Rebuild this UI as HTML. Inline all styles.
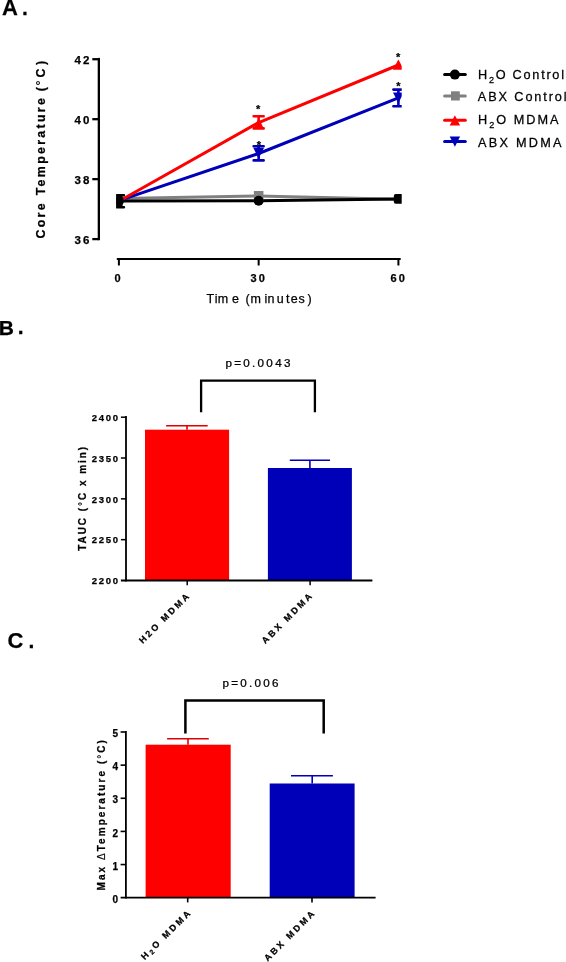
<!DOCTYPE html>
<html><head><meta charset="utf-8">
<style>
html,body{margin:0;padding:0;background:#fff;width:566px;height:962px;overflow:hidden}
svg{display:block;will-change:transform;filter:blur(0.35px)}
text{font-family:"Liberation Sans",sans-serif;fill:#000;stroke:#000;stroke-width:0.25px}
.b{font-weight:bold}
</style></head><body>
<svg width="566" height="962" viewBox="0 0 566 962">
<defs>
<clipPath id="clipA"><rect x="116.2" y="40" width="285.5" height="200"/></clipPath>
</defs>
<text class="b" x="2.0" y="15.0" font-size="22">A</text>
<text class="b" x="22.0" y="15.0" font-size="21">.</text>
<g stroke="#000" stroke-width="2.3" fill="none"><line x1="98.85" y1="57.9" x2="98.85" y2="240.2"/><line x1="92.3" y1="59.22" x2="98.85" y2="59.22"/><line x1="92.3" y1="119.18" x2="98.85" y2="119.18"/><line x1="92.3" y1="179.14" x2="98.85" y2="179.14"/><line x1="92.3" y1="239.10" x2="98.85" y2="239.10"/></g>
<text class="b" x="91.2" y="64.02" font-size="11.5" letter-spacing="1.9" text-anchor="end">42</text>
<text class="b" x="91.2" y="123.98" font-size="11.5" letter-spacing="1.9" text-anchor="end">40</text>
<text class="b" x="91.2" y="183.94" font-size="11.5" letter-spacing="1.9" text-anchor="end">38</text>
<text class="b" x="91.2" y="243.9" font-size="11.5" letter-spacing="1.9" text-anchor="end">36</text>
<text class="b" font-size="12.4" letter-spacing="2.3" transform="translate(45.3,238.5) rotate(-90)">Core Temperature <tspan dx="-1.1">(</tspan><tspan dx="-0.6" font-weight="normal">°</tspan><tspan dx="0.6">C</tspan><tspan dx="1.3">)</tspan></text>
<g stroke="#000" stroke-width="2" fill="none"><line x1="116.8" y1="259.05" x2="400.7" y2="259.05"/><line x1="118.90" y1="259" x2="118.90" y2="265.5"/><line x1="258.65" y1="259" x2="258.65" y2="265.5"/><line x1="398.40" y1="259" x2="398.40" y2="265.5"/></g>
<text class="b" x="114.6" y="281.5" font-size="11">0</text>
<text class="b" x="250.6" y="281.5" font-size="11" letter-spacing="2.1">30</text>
<text class="b" x="390.6" y="281.5" font-size="11" letter-spacing="2.1">60</text>
<text font-size="12.5" x="206.6 214.7 217.7 232.1 240 245.4 250.5 264.5 267.6 276.8 285.9 290.7 298.4 307.6" y="303.4">Time (minutes)</text>
<g clip-path="url(#clipA)">
<g fill="none" stroke-width="3" stroke-linejoin="round">
<polyline stroke="#808080" points="118.90,198.5 258.65,196.0 398.40,199.3"/>
<polyline stroke="#000" points="118.90,201.0 258.65,200.7 398.40,199.0"/>
<polyline stroke="#0000B8" points="118.90,200.6 258.65,153.5 398.40,97.8"/>
<polyline stroke="#FF0000" points="118.90,201.3 258.65,122.6 398.40,65.0"/>
</g>
<path stroke="#000" stroke-width="2.6" stroke-linecap="round" fill="none" d="M118.90,195.3V207.3M113.90,195.3H123.90M113.90,207.3H123.90"/>
<circle cx="118.90" cy="201" r="5" fill="#000"/>
<rect x="112" y="195" width="10.6" height="12.6" fill="#000"/>
<rect x="253.85" y="191" width="9.6" height="9.6" fill="#808080"/>
<circle cx="258.65" cy="200.7" r="5" fill="#000"/>
<path stroke="#FF0000" stroke-width="2.6" stroke-linecap="round" fill="none" d="M258.65,116.2V128.4M253.65,116.2H263.65M253.65,128.4H263.65"/>
<polygon points="258.65,118 253.25,128.9 264.05,128.9" fill="#FF0000"/>
<path stroke="#0000B8" stroke-width="2.6" stroke-linecap="round" fill="none" d="M258.65,146.2V160.4M253.65,146.2H263.65M253.65,160.4H263.65"/>
<polygon points="253.25,147.8 264.05,147.8 258.65,158.5" fill="#0000B8"/>
<rect x="393.80" y="194" width="9.6" height="9.8" rx="2" fill="#000"/>
<polygon points="398.40,59.6 392.80,69.8 404.00,69.8" fill="#FF0000"/>
<path stroke="#0000B8" stroke-width="2.6" stroke-linecap="round" fill="none" d="M398.40,89.6V106.3M393.40,89.6H403.40M393.40,106.3H403.40"/>
<polygon points="393.00,92.6 403.80,92.6 398.40,103.1" fill="#0000B8"/>
</g>
<text class="b" x="258.2" y="113.0" font-size="11" text-anchor="middle">*</text>
<text class="b" x="259.0" y="148.7" font-size="11" text-anchor="middle">*</text>
<text class="b" x="398.2" y="61.4" font-size="11" text-anchor="middle">*</text>
<text class="b" x="398.5" y="89.9" font-size="11" text-anchor="middle">*</text>
<g stroke-width="3" fill="none" stroke-linecap="round"><line x1="444.6" y1="74.4" x2="465.3" y2="74.4" stroke="#000"/><line x1="444.6" y1="95.9" x2="465.3" y2="95.9" stroke="#808080"/><line x1="444.6" y1="120.2" x2="465.3" y2="120.2" stroke="#FF0000"/><line x1="444.6" y1="141.6" x2="465.3" y2="141.6" stroke="#0000B8"/></g>
<circle cx="454.9" cy="74.6" r="5" fill="#000"/>
<rect x="451" y="91.3" width="8.8" height="9.2" fill="#808080"/>
<polygon points="454.9,115.2 449.7,125.4 460.09999999999997,125.4" fill="#FF0000"/>
<polygon points="449.7,136.5 460.09999999999997,136.5 454.9,146.7" fill="#0000B8"/>
<text font-size="12" transform="translate(478.0,78.6) scale(1.06,1)" textLength="81.13" lengthAdjust="spacing">H<tspan font-size="8.6" dy="4">2</tspan><tspan dy="-4">O Control</tspan></text>
<text font-size="12" transform="translate(477.8,101.4) scale(1.06,1)" textLength="83.77" lengthAdjust="spacing">ABX Control</text>
<text font-size="12" transform="translate(478.0,124.4) scale(1.06,1)" textLength="75.94" lengthAdjust="spacing">H<tspan font-size="8.6" dy="4">2</tspan><tspan dy="-4">O MDMA</tspan></text>
<text font-size="12" transform="translate(478.0,147.1) scale(1.06,1)" textLength="78.77" lengthAdjust="spacing">ABX MDMA</text>
<text class="b" x="-1.2" y="334.5" font-size="21">B</text>
<text class="b" x="17.8" y="334.4" font-size="21">.</text>
<text font-size="10.4" transform="translate(225.4,366.8) scale(1.12,1)" textLength="58.04" lengthAdjust="spacing">p=0.0043</text>
<path d="M201.1,412.3V380.6H314.9V412.3" stroke="#000" stroke-width="2.3" fill="none"/>
<rect x="145" y="429.7" width="84.1" height="150.8" fill="#FF0000"/>
<rect x="267.9" y="468" width="84" height="112.5" fill="#0000B8"/>
<path d="M187,429.7V425.7M166.1,425.7H207.7" stroke="#E00000" stroke-width="1.6" fill="none"/>
<path d="M309.9,468V460.2M289.8,460.2H330" stroke="#0000B8" stroke-width="1.6" fill="none"/>
<g stroke="#000" stroke-width="1.8" fill="none"><line x1="126" y1="416" x2="126" y2="581.4"/><line x1="120.9" y1="580.5" x2="372.4" y2="580.5"/></g><g stroke="#000" stroke-width="1.5" fill="none"><line x1="120.9" y1="417.20" x2="126" y2="417.20"/><line x1="120.9" y1="458.02" x2="126" y2="458.02"/><line x1="120.9" y1="498.85" x2="126" y2="498.85"/><line x1="120.9" y1="539.67" x2="126" y2="539.67"/><line x1="187.2" y1="580.5" x2="187.2" y2="585.2"/><line x1="310.1" y1="580.5" x2="310.1" y2="585.2"/></g>
<text class="b" x="119.6" y="421.0" font-size="9.5" letter-spacing="1.65" text-anchor="end">2400</text>
<text class="b" x="119.6" y="461.82" font-size="9.5" letter-spacing="1.65" text-anchor="end">2350</text>
<text class="b" x="119.6" y="502.65" font-size="9.5" letter-spacing="1.65" text-anchor="end">2300</text>
<text class="b" x="119.6" y="543.47" font-size="9.5" letter-spacing="1.65" text-anchor="end">2250</text>
<text class="b" x="119.6" y="584.3" font-size="9.5" letter-spacing="1.65" text-anchor="end">2200</text>
<text class="b" font-size="10" letter-spacing="1.95" transform="translate(85.6,550.8) rotate(-90)">TAUC (<tspan font-weight="normal">°</tspan>C x min)</text>
<text class="b" font-size="9" letter-spacing="2.45" text-anchor="end" transform="translate(191.3,595.6) rotate(-45)">H2O MDMA</text>
<text class="b" font-size="9" letter-spacing="2.45" text-anchor="end" transform="translate(314.2,595.4) rotate(-45)">ABX MDMA</text>
<text class="b" x="7.6" y="647.9" font-size="22">C</text>
<text class="b" x="28.5" y="648" font-size="21">.</text>
<text font-size="10.4" transform="translate(222.5,686.5) scale(1.12,1)" textLength="50.00" lengthAdjust="spacing">p=0.006</text>
<path d="M185.4,733.5V700.5H323.7V733.5" stroke="#000" stroke-width="2.5" fill="none"/>
<rect x="145.6" y="744.7" width="85.1" height="153" fill="#FF0000"/>
<rect x="269.7" y="783.5" width="84.9" height="114.2" fill="#0000B8"/>
<path d="M188,744.7V738.8M167.1,738.8H208.8" stroke="#E00000" stroke-width="1.6" fill="none"/>
<path d="M312.2,783.5V775.7M291,775.7H332.9" stroke="#0000B8" stroke-width="1.6" fill="none"/>
<g stroke="#000" stroke-width="1.8" fill="none"><line x1="125.9" y1="731" x2="125.9" y2="898.6"/><line x1="120.6" y1="897.7" x2="375.6" y2="897.7"/></g><g stroke="#000" stroke-width="1.6" fill="none"><line x1="120.6" y1="732.00" x2="125.9" y2="732.00"/><line x1="120.6" y1="765.14" x2="125.9" y2="765.14"/><line x1="120.6" y1="798.28" x2="125.9" y2="798.28"/><line x1="120.6" y1="831.42" x2="125.9" y2="831.42"/><line x1="120.6" y1="864.56" x2="125.9" y2="864.56"/><line x1="187.7" y1="897.7" x2="187.7" y2="902.4"/><line x1="312" y1="897.7" x2="312" y2="902.4"/></g>
<text class="b" x="118.1" y="737.1" font-size="10" text-anchor="end">5</text>
<text class="b" x="118.1" y="770.24" font-size="10" text-anchor="end">4</text>
<text class="b" x="118.1" y="803.38" font-size="10" text-anchor="end">3</text>
<text class="b" x="118.1" y="836.52" font-size="10" text-anchor="end">2</text>
<text class="b" x="118.1" y="869.66" font-size="10" text-anchor="end">1</text>
<text class="b" x="118.1" y="902.8" font-size="10" text-anchor="end">0</text>
<text class="b" font-size="10" letter-spacing="2.05" transform="translate(104.8,890.5) rotate(-90)">Max <tspan font-weight="normal" stroke-width="0.15">Δ</tspan>Temperature (<tspan font-weight="normal">°</tspan>C)</text>
<text class="b" font-size="9" letter-spacing="2.45" text-anchor="end" transform="translate(192.5,912.6) rotate(-45)">H<tspan font-size="6.8" dy="1.5">2</tspan><tspan dy="-1.5">O MDMA</tspan></text>
<text class="b" font-size="9" letter-spacing="2.45" text-anchor="end" transform="translate(316.5,913.0) rotate(-45)">ABX MDMA</text>
</svg>
</body></html>
